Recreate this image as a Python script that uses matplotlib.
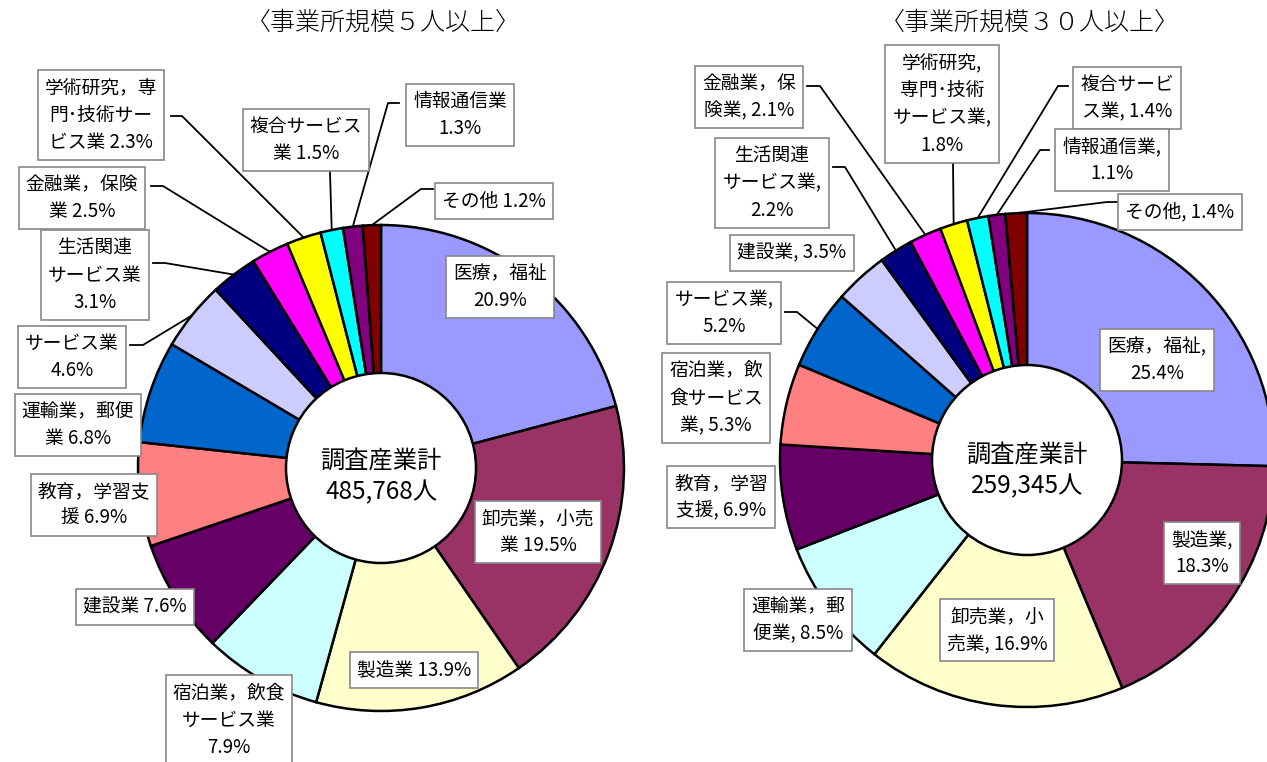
import matplotlib
matplotlib.use('Agg')
import matplotlib.pyplot as plt
from matplotlib.patches import Circle
import numpy as np

plt.rcParams['font.family'] = ['Noto Sans CJK JP', 'DejaVu Sans']

# common slice colours (same order position in both pies)
colors = ['#9999FF', '#993366', '#FFFFCC', '#CCFFFF', '#660066', '#FF8080', '#0066CC',
          '#CCCCFF', '#000080', '#FF00FF', '#FFFF00', '#00FFFF', '#800080', '#800000']

# 事業所規模5人以上
left_names = ['医療，福祉\n', '卸売業，小売\n業 ', '製造業 ', '宿泊業，飲食\nサービス業\n',
              '建設業 ', '教育，学習支\n援 ', '運輸業，郵便\n業 ', 'サービス業\n',
              '生活関連\nサービス業\n', '金融業，保険\n業 ', '学術研究，専\n門･技術サー\nビス業 ',
              '複合サービス\n業 ', '情報通信業\n', 'その他 ']
left_values = [20.9, 19.5, 13.9, 7.9, 7.6, 6.9, 6.8, 4.6, 3.1, 2.5, 2.3, 1.5, 1.3, 1.2]
left_total = '調査産業計\n485,768人'
left_title = '〈事業所規模５人以上〉'

# 事業所規模30人以上
right_names = ['医療，福祉,\n', '製造業,\n', '卸売業，小\n売業, ', '運輸業，郵\n便業, ',
               '教育，学習\n支援, ', '宿泊業，飲\n食サービス\n業, ', 'サービス業,\n',
               '建設業, ', '生活関連\nサービス業,\n', '金融業，保\n険業, ',
               '学術研究,\n専門･技術\nサービス業,\n', '複合サービ\nス業, ', '情報通信業,\n',
               'その他, ']
right_values = [25.4, 18.3, 16.9, 8.5, 6.9, 5.3, 5.2, 3.5, 2.2, 2.1, 1.8, 1.4, 1.1, 1.4]
right_total = '調査産業計\n259,345人'
right_title = '〈事業所規模３０人以上〉'

W, H = 1267, 762
fig = plt.figure(figsize=(W / 100, H / 100), dpi=100)
ax = fig.add_axes([0, 0, 1, 1])

# layout (pixel coords, y downwards)
left_cfg = dict(center=(381, 468), R=243, r=95, text_y=477, title_x=383,
                boxes=[(500, 287), (538, 532), (414, 670), (229, 720), (135, 607),
                       (94, 505), (78, 425), (72, 357), (95, 275), (82, 198),
                       (101, 115), (306, 140), (460, 115), (494, 201)],
                leaders={7: ((130, 345), (143, 345)), 8: ((153, 263), (165, 263)),
                         9: ((151, 186), (163, 186)), 10: ((171, 116), (182, 116)),
                         11: ((330, 172), (330, 172)), 12: ((399, 103), (388, 103)),
                         13: ((433, 189), (421, 189))})
right_cfg = dict(center=(1027, 460), R=247, r=95, text_y=471, title_x=1030,
                 boxes=[(1157, 360), (1202, 553), (997, 630), (798, 620), (721, 497),
                        (716, 398), (724, 313), (792, 253), (772, 183), (749, 97),
                        (942, 104), (1127, 98), (1112, 160), (1180, 212)],
                 leaders={6: ((785, 312), (797, 312)), 8: ((833, 167), (845, 167)),
                          9: ((807, 86), (820, 86)), 10: ((953, 162), (953, 162)),
                          11: ((1068, 86), (1058, 86)), 12: ((1049, 150), (1040, 150)),
                          13: ((1118, 202), (1107, 202))})


def draw_donut(names, values, total, title, cfg):
    cx, cy = cfg['center']
    R = cfg['R']
    # y axis is inverted, so data angle -90 is the top and increasing angle runs clockwise
    ax.pie(values, colors=colors, startangle=-90, counterclock=True, center=(cx, cy),
           radius=R, wedgeprops=dict(edgecolor='black', linewidth=1.8))
    ax.add_patch(Circle((cx, cy), cfg['r'], facecolor='white', edgecolor='black',
                        linewidth=1.8, zorder=4))
    ax.text(cx, cfg['text_y'], total, ha='center', va='center', fontsize=17.5,
            linespacing=1.2, zorder=5)
    ax.text(cfg['title_x'], 22, title, ha='center', va='center', fontsize=18,
            fontweight='light')

    frac = np.array(values) / sum(values)
    mids = -90 + 360 * (np.cumsum(frac) - frac / 2)
    for i, (name, v) in enumerate(zip(names, values)):
        bx, by = cfg['boxes'][i]
        ax.text(bx, by, name + f'{v}%', ha='center', va='center', fontsize=13.5,
                linespacing=1.4, zorder=6,
                bbox=dict(boxstyle='square,pad=0.38', facecolor='white',
                          edgecolor='#888888', linewidth=1.2))
        if i in cfg['leaders']:
            (ax_, ay_), (ex, ey) = cfg['leaders'][i]
            a = np.radians(mids[i])
            px, py = cx + R * np.cos(a), cy + R * np.sin(a)
            ax.plot([ax_, ex, px], [ay_, ey, py], color='black', linewidth=1.3, zorder=3)


draw_donut(left_names, left_values, left_total, left_title, left_cfg)
draw_donut(right_names, right_values, right_total, right_title, right_cfg)

ax.set_xlim(0, W)
ax.set_ylim(H, 0)
ax.set_aspect('equal')
ax.axis('off')

fig.savefig('out.png', dpi=100)
